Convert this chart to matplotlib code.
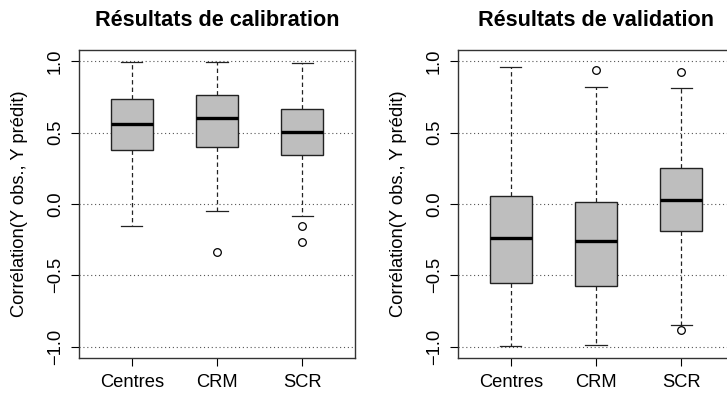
import matplotlib
matplotlib.use("Agg")
import matplotlib.pyplot as plt

plt.rcParams['font.family'] = ['Liberation Sans', 'DejaVu Sans']

categories = ["Centres", "CRM", "SCR"]

# Calibration
cal_whislo = [-0.157, -0.047, -0.084]
cal_q1 = [0.376, 0.400, 0.341]
cal_med = [0.561, 0.605, 0.505]
cal_q3 = [0.734, 0.764, 0.664]
cal_whishi = [0.997, 0.998, 0.990]
cal_fliers = [[], [-0.339], [-0.152, -0.266]]

# Validation
val_whislo = [-0.995, -0.988, -0.848]
val_q1 = [-0.556, -0.575, -0.189]
val_med = [-0.238, -0.262, 0.026]
val_q3 = [0.054, 0.012, 0.250]
val_whishi = [0.963, 0.820, 0.811]
val_fliers = [[], [0.939], [0.925, -0.886]]

titles = ["Résultats de calibration", "Résultats de validation"]
ylabel = "Corrélation(Y obs., Y prédit)"
yticks = [-1.0, -0.5, 0.0, 0.5, 1.0]
yticklabels = ["\u22121.0", "\u22120.5", "0.0", "0.5", "1.0"]

W, H = 727, 394
fig = plt.figure(figsize=(W / 100, H / 100), dpi=100)

panels = [
    (cal_whislo, cal_q1, cal_med, cal_q3, cal_whishi, cal_fliers),
    (val_whislo, val_q1, val_med, val_q3, val_whishi, val_fliers),
]
lefts = [79, 458]
for i, (wl, q1, md, q3, wh, fl) in enumerate(panels):
    ax = fig.add_axes([lefts[i] / W, 1 - 358 / H, 276 / W, 308 / H])
    stats = []
    for k, c in enumerate(categories):
        stats.append(dict(label=c, whislo=wl[k], q1=q1[k], med=md[k],
                          q3=q3[k], whishi=wh[k], fliers=fl[k]))
    for y in yticks:
        ax.axhline(y, color='#555555', lw=0.8, ls=(0, (1, 2.5)), zorder=0)
    ax.bxp(stats, positions=[1, 2, 3], widths=0.5, patch_artist=True,
           boxprops=dict(facecolor='#bebebe', edgecolor='#222222', lw=1.0),
           medianprops=dict(color='black', lw=2.4, solid_capstyle='butt'),
           whiskerprops=dict(color='#222222', lw=0.9, ls=(0, (3.5, 2.5))),
           capprops=dict(color='#222222', lw=0.9),
           capwidths=0.25,
           flierprops=dict(marker='o', markerfacecolor='none',
                           markeredgecolor='black', markersize=5.5, mew=0.9),
           zorder=2)
    ax.set_xlim(0.38, 3.62)
    ax.set_ylim(-1.08, 1.08)
    ax.set_yticks(yticks)
    ax.set_yticklabels(yticklabels, rotation=90, va='center')
    ax.tick_params(axis='both', direction='out', length=5.8, width=0.8,
                   labelsize=13.2, color='black')
    ax.tick_params(axis='x', pad=5.5)
    ax.tick_params(axis='y', pad=5)
    for s in ax.spines.values():
        s.set_color('#333333')
        s.set_linewidth(1.0)
    ax.set_ylabel(ylabel, fontsize=13.2, labelpad=14)
    ax.set_title(titles[i], fontsize=15.6, fontweight='bold', pad=17)

fig.savefig("out.png", dpi=100)
